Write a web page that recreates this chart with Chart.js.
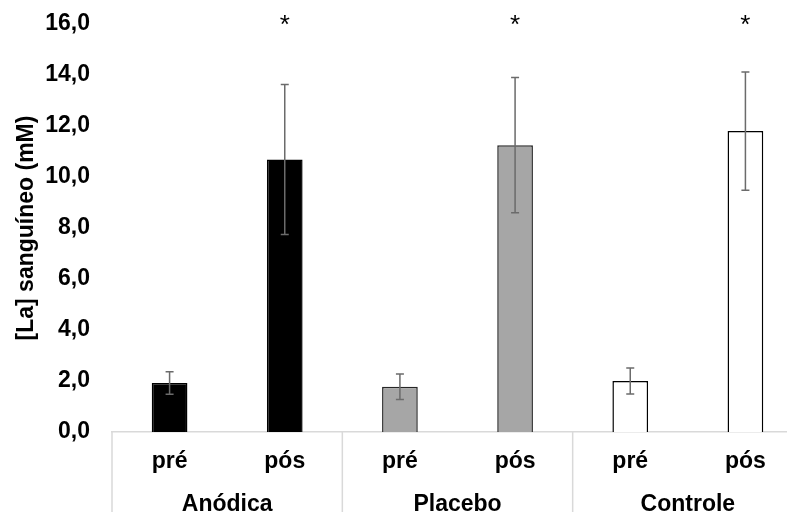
<!DOCTYPE html>
<html>
<head>
<meta charset="utf-8">
<script src="https://cdn.jsdelivr.net/npm/chart.js@4/dist/chart.umd.min.js"></script>
<style>
  html, body { margin: 0; padding: 0; background: #fff; overflow: hidden; }
  #wrap { width: 803px; height: 512px; }
</style>
</head>
<body>
<div id="wrap"><canvas id="chart1"></canvas></div>
<script>
var phases = ["pré", "pós", "pré", "pós", "pré", "pós"];
var groups = ["Anódica", "Placebo", "Controle"];
var lactate = [1.92, 10.69, 1.77, 11.25, 2.00, 11.80];
var lactateSD = [0.44, 2.94, 0.50, 2.65, 0.51, 2.32];
var signif = ["", "*", "", "*", "", "*"];

var fontFamily = "'Liberation Sans', Arial, sans-serif";

// error bars, asterisks and the group row under the axis
var extras = {
    id: 'extras',
    afterDatasetsDraw: function(chart) {
        var ctx = chart.ctx;
        var ys = chart.scales.y;
        var meta = chart.getDatasetMeta(0);
        ctx.save();
        ctx.strokeStyle = '#6b6b6b';
        ctx.lineWidth = 1.5;
        meta.data.forEach(function(bar, i) {
            var x = bar.x;
            var yt = ys.getPixelForValue(lactate[i] + lactateSD[i]);
            var yb = ys.getPixelForValue(lactate[i] - lactateSD[i]);
            ctx.beginPath();
            ctx.moveTo(x, yt); ctx.lineTo(x, yb);
            ctx.moveTo(x - 4, yt); ctx.lineTo(x + 4, yt);
            ctx.moveTo(x - 4, yb); ctx.lineTo(x + 4, yb);
            ctx.stroke();
        });
        ctx.fillStyle = '#000';
        ctx.font = '26px ' + fontFamily;
        ctx.textAlign = 'center';
        ctx.textBaseline = 'alphabetic';
        meta.data.forEach(function(bar, i) {
            if (signif[i]) ctx.fillText(signif[i], bar.x, ys.getPixelForValue(16) + 9);
        });
        ctx.restore();
    },
    afterDraw: function(chart) {
        var ctx = chart.ctx;
        var xs = chart.scales.x;
        var axisY = chart.chartArea.bottom;
        var per = phases.length / groups.length;
        ctx.save();
        ctx.strokeStyle = '#d9d9d9';
        ctx.lineWidth = 1.5;
        for (var g = 0; g <= groups.length; g++) {
            var px;
            if (g === 0) px = xs.left;
            else if (g === groups.length) px = xs.right;
            else px = (xs.getPixelForValue(g * per - 1) + xs.getPixelForValue(g * per)) / 2;
            ctx.beginPath();
            ctx.moveTo(px, axisY);
            ctx.lineTo(px, chart.height);
            ctx.stroke();
        }
        ctx.fillStyle = '#000';
        ctx.font = 'bold 23px ' + fontFamily;
        ctx.textAlign = 'center';
        ctx.textBaseline = 'middle';
        groups.forEach(function(name, g) {
            var cx = (xs.getPixelForValue(g * per) + xs.getPixelForValue(g * per + per - 1)) / 2;
            ctx.fillText(name, cx, axisY + 73);
        });
        ctx.restore();
    }
};

var ctx = document.getElementById("chart1");

var data = {
    labels: phases,
    datasets: [{
        data: lactate,
        backgroundColor: ['#000000', '#000000', '#a6a6a6', '#a6a6a6', '#ffffff', '#ffffff'],
        borderColor: ['#000000', '#000000', '#262626', '#262626', '#000000', '#000000'],
        borderWidth: 1.5,
        categoryPercentage: 1,
        barPercentage: 0.31
    }]
};

var options = {
    responsive: true,
    maintainAspectRatio: false,
    animation: false,
    layout: { padding: { top: 24, left: 0, right: 0, bottom: 0 } },
    plugins: {
        legend: { display: false },
        tooltip: { enabled: false }
    },
    scales: {
        x: {
            offset: true,
            grid: { display: false, drawTicks: false },
            border: { display: true, color: '#d9d9d9', width: 1.5 },
            ticks: {
                color: '#000',
                padding: 16,
                maxRotation: 0,
                font: { family: fontFamily, size: 23, weight: 'bold' }
            },
            afterFit: function(scale) {
                scale.height = 80;
                scale.paddingLeft = 0;
                scale.paddingRight = 0;
            }
        },
        y: {
            min: 0,
            max: 16,
            grid: { display: false, drawTicks: false },
            border: { display: false },
            ticks: {
                stepSize: 2,
                color: '#000',
                padding: 22,
                font: { family: fontFamily, size: 23, weight: 'bold' },
                callback: function(v) { return v.toFixed(1).replace('.', ','); }
            },
            title: {
                display: true,
                text: '[La] sanguíneo (mM)',
                color: '#000',
                padding: { top: 13, bottom: 0 },
                font: { family: fontFamily, size: 23, weight: 'bold' }
            },
            afterFit: function(scale) {
                scale.width = 112;
                scale.paddingTop = 0;
                scale.paddingBottom = 0;
            }
        }
    }
};

var chart1 = new Chart(ctx, {
    type: 'bar',
    data: data,
    options: options,
    plugins: [extras]
});
</script>
</body>
</html>
